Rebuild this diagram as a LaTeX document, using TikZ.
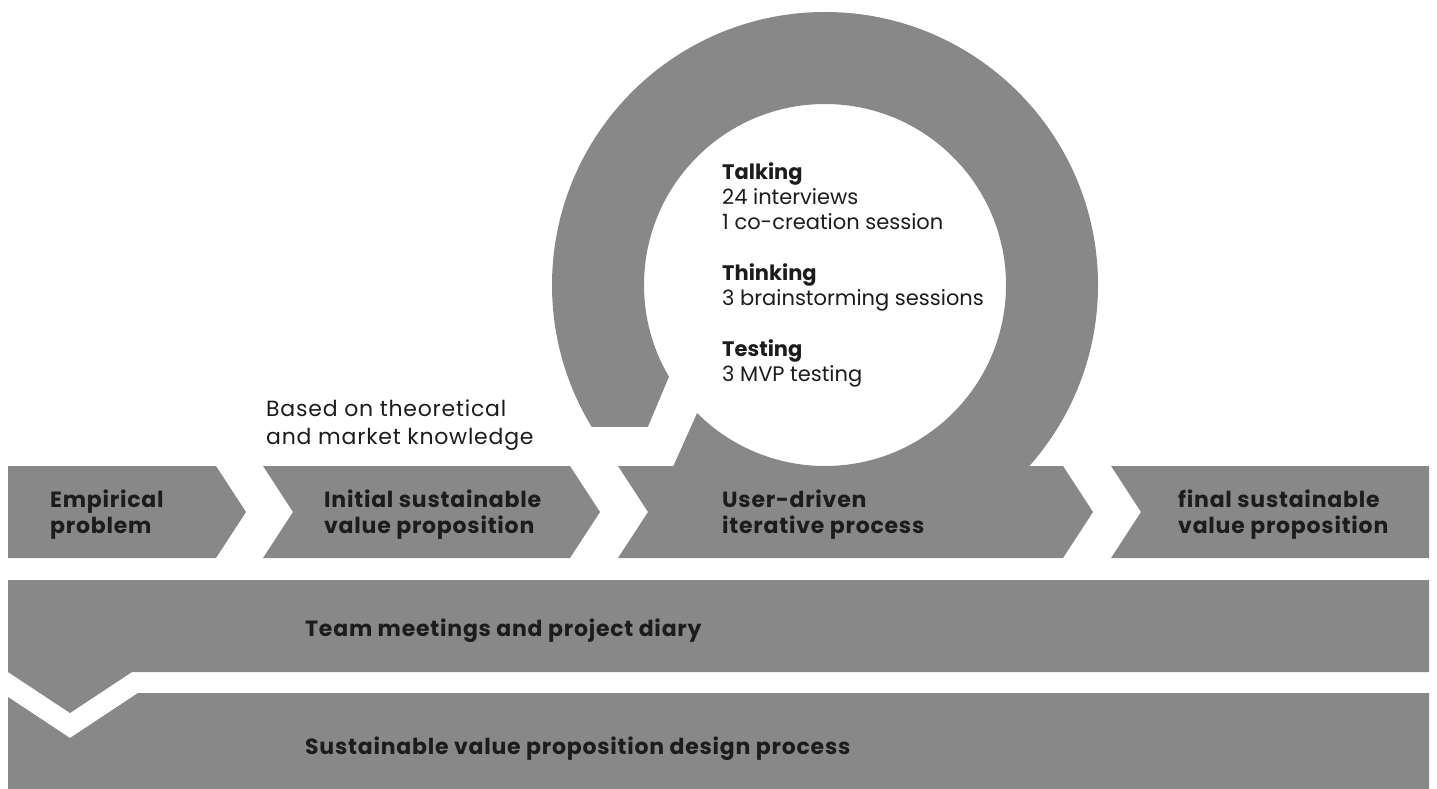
\documentclass[tikz,border=0pt]{standalone}
\usepackage{fontspec}
\setmainfont{Poppins}
\newfontfamily\widefont[LetterSpace=3.5]{Poppins}
\definecolor{boxgray}{HTML}{888888}
\definecolor{txt}{HTML}{1C1C1C}
\tikzset{
  lbl/.style={anchor=base west, inner sep=0pt, text=txt, font=\widefont\fontsize{22}{26}\selectfont\bfseries},
  plain/.style={anchor=base west, inner sep=0pt, text=txt, font=\widefont\fontsize{22}{26}\selectfont},
  ringlbl/.style={anchor=base west, inner sep=0pt, text=txt, font=\fontsize{21}{25}\selectfont\bfseries},
  ringtxt/.style={anchor=base west, inner sep=0pt, text=txt, font=\fontsize{21}{25}\selectfont},
}
\begin{document}
\begin{tikzpicture}[x=1pt,y=-1pt]
\useasboundingbox (0,0) rectangle (1437,789);
% ring
\begin{scope}
  \clip (0,0) rectangle (1437,466.5);
  \fill[boxgray, even odd rule] (825,285) circle[radius=273] (825,285) circle[radius=181];
\end{scope}
% gap in the ring
\fill[white] (560,427) -- (648,427) -- (669,377) -- (705,395) -- (697,413) -- (673,466.5) -- (560,466.5) -- cycle;
% chevrons
\fill[boxgray] (8,466) -- (216,466) -- (246,512) -- (216,558) -- (8,558) -- cycle;
\fill[boxgray] (263,466) -- (570,466) -- (600,512) -- (570,558) -- (263,558) -- (293,512) -- cycle;
\fill[boxgray] (618,466) -- (1063,466) -- (1093,512) -- (1063,558) -- (618,558) -- (648,512) -- cycle;
\fill[boxgray] (1111,466) -- (1429,466) -- (1429,558) -- (1111,558) -- (1141,512) -- cycle;
% bars
\fill[boxgray] (8,580) -- (1429,580) -- (1429,672) -- (132,672) -- (70,713) -- (8,672) -- cycle;
\fill[boxgray] (8,697) -- (70,738) -- (138,693) -- (1429,693) -- (1429,789) -- (8,789) -- cycle;
% texts
\node[lbl] (e1) at (50,507) {Empirical};
\node[lbl] (e2) at (50,533) {problem};
\node[lbl] (i1) at (324,507) {Initial sustainable};
\node[lbl] (i2) at (324,533) {value proposition};
\node[lbl] (u1) at (722,507) {User-driven};
\node[lbl] (u2) at (722,533) {iterative process};
\node[lbl] (f1) at (1178,507) {final sustainable};
\node[lbl] (f2) at (1178,533) {value proposition};
\node[lbl] (tm) at (305,636) {Team meetings and project diary};
\node[lbl] (sv) at (305,754) {Sustainable value proposition design process};
\node[plain] (b1) at (266,416) {Based on theoretical};
\node[plain] (b2) at (266,444) {and market knowledge};
\node[ringlbl] (t1) at (722,179) {Talking};
\node[ringtxt] (t2) at (722,204) {24 interviews};
\node[ringtxt] (t3) at (722,229) {1 co-creation session};
\node[ringlbl] (h1) at (722,280) {Thinking};
\node[ringtxt] (h2) at (722,305) {3 brainstorming sessions};
\node[ringlbl] (s1) at (722,356) {Testing};
\node[ringtxt] (s2) at (722,381) {3 MVP testing};
\end{tikzpicture}
\end{document}
